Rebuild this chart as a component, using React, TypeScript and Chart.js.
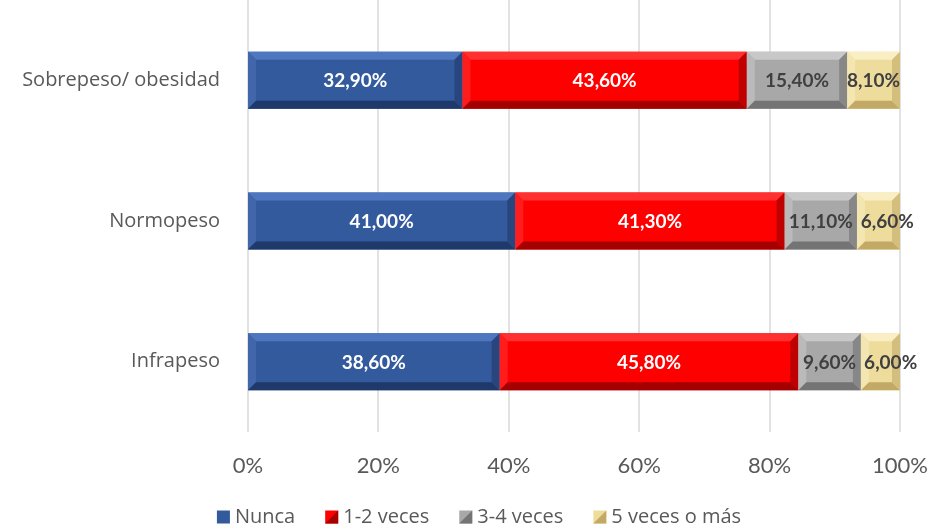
import React, { useEffect, useRef } from "react";
import { Chart, registerables } from "chart.js";

Chart.register(...registerables);

const categories = ["Sobrepeso/ obesidad", "Normopeso", "Infrapeso"];
const seriesLabels = ["Nunca", "1-2 veces", "3-4 veces", "5 veces o más"];
const nunca = [32.9, 41.0, 38.6];
const veces12 = [43.6, 41.3, 45.8];
const veces34 = [15.4, 11.1, 9.6];
const veces5 = [8.1, 6.6, 6.0];
const xTickValues = [0, 20, 40, 60, 80, 100];

const palettes = [
  { main: "#335A9D", top: "#4E77BF", left: "#4166AA", bottom: "#1E396A", right: "#28467D", label: "#FFFFFF" },
  { main: "#FF0000", top: "#FF3030", left: "#FF1C1C", bottom: "#A40000", right: "#BE0000", label: "#FFFFFF" },
  { main: "#A8A8A8", top: "#C8C8C8", left: "#BABABA", bottom: "#747474", right: "#878787", label: "#404040" },
  { main: "#EEDC9C", top: "#FAEFC4", left: "#F4E6B0", bottom: "#C2AA66", right: "#D4BE7E", label: "#404040" },
];

const FONT = "'Open Sans', Lato, sans-serif";
const LABEL_FONT = "Lato, 'Open Sans', sans-serif";

const fmt = (v: number) => v.toFixed(2).replace(".", ",") + "%";

const gridPlugin = {
  id: "extGrid",
  beforeDatasetsDraw(chart: any) {
    const ctx = chart.ctx;
    const xs = chart.scales.x;
    ctx.save();
    ctx.strokeStyle = "#D9D9D9";
    ctx.lineWidth = 1.5;
    xTickValues.forEach((v) => {
      const px = Math.round(xs.getPixelForValue(v));
      ctx.beginPath();
      ctx.moveTo(px, 0);
      ctx.lineTo(px, chart.chartArea.bottom);
      ctx.stroke();
    });
    ctx.restore();
  },
};

const bevelPlugin = {
  id: "bevel",
  afterDatasetsDraw(chart: any) {
    const ctx = chart.ctx;
    ctx.save();
    chart.data.datasets.forEach((ds: any, di: number) => {
      const meta = chart.getDatasetMeta(di);
      const p = palettes[di];
      meta.data.forEach((el: any) => {
        const { x, y, base, height } = el.getProps(["x", "y", "base", "height"], true);
        const l = Math.min(x, base);
        const r = Math.max(x, base);
        const t = y - height / 2;
        const b = y + height / 2;
        const bw = Math.min(8, (r - l) / 2);
        const poly = (pts: number[][], c: string) => {
          ctx.fillStyle = c;
          ctx.beginPath();
          ctx.moveTo(pts[0][0], pts[0][1]);
          for (let k = 1; k < pts.length; k++) ctx.lineTo(pts[k][0], pts[k][1]);
          ctx.closePath();
          ctx.fill();
        };
        poly([[l, t], [r, t], [r - bw, t + bw], [l + bw, t + bw]], p.top);
        poly([[l, t], [l + bw, t + bw], [l + bw, b - bw], [l, b]], p.left);
        poly([[l, b], [l + bw, b - bw], [r - bw, b - bw], [r, b]], p.bottom);
        poly([[r, t], [r, b], [r - bw, b - bw], [r - bw, t + bw]], p.right);
      });
    });
    ctx.font = `bold 19px ${LABEL_FONT}`;
    ctx.textAlign = "left";
    ctx.textBaseline = "middle";
    const prevRight: number[] = categories.map(() => -Infinity);
    chart.data.datasets.forEach((ds: any, di: number) => {
      const meta = chart.getDatasetMeta(di);
      meta.data.forEach((el: any, i: number) => {
        const { x, y, base } = el.getProps(["x", "y", "base"], true);
        const txt = fmt(ds.data[i]);
        const w = ctx.measureText(txt).width;
        let left = (x + base) / 2 - w / 2;
        if (left < prevRight[i] + 8) left = prevRight[i] + 8;
        prevRight[i] = left + w;
        ctx.fillStyle = palettes[di].label;
        ctx.fillText(txt, left, y + 1);
      });
    });
    ctx.restore();
  },
};

const legendPlugin = {
  id: "customLegend",
  afterDraw(chart: any) {
    const ctx = chart.ctx;
    ctx.save();
    ctx.font = `20px ${FONT}`;
    const box = 13;
    const gapText = 5;
    const gapItem = 30;
    const widths = seriesLabels.map((s) => box + gapText + ctx.measureText(s).width);
    const total = widths.reduce((a, b) => a + b, 0) + gapItem * (widths.length - 1);
    let x = 479 - total / 2;
    const cy = 517;
    seriesLabels.forEach((s, i) => {
      const p = palettes[i];
      ctx.fillStyle = p.main;
      ctx.fillRect(x, cy - box / 2, box, box);
      if (i > 0) {
        ctx.fillStyle = p.bottom;
        ctx.beginPath();
        ctx.moveTo(x + box, cy - box / 2);
        ctx.lineTo(x + box, cy + box / 2);
        ctx.lineTo(x, cy + box / 2);
        ctx.closePath();
        ctx.fill();
      }
      ctx.fillStyle = "#595959";
      ctx.textAlign = "left";
      ctx.textBaseline = "middle";
      ctx.fillText(s, x + box + gapText, cy);
      x += widths[i] + gapItem;
    });
    ctx.restore();
  },
};

export default function App() {
  const ref = useRef<HTMLCanvasElement | null>(null);
  useEffect(() => {
    if (!ref.current) return;
    const seriesData = [nunca, veces12, veces34, veces5];
    const chart = new Chart(ref.current, {
      type: "bar",
      data: {
        labels: categories,
        datasets: seriesLabels.map((lab, i) => ({
          label: lab,
          data: seriesData[i],
          backgroundColor: palettes[i].main,
          borderWidth: 0,
          barPercentage: 0.405,
          categoryPercentage: 1,
        })),
      },
      options: {
        indexAxis: "y",
        responsive: false,
        animation: false,
        layout: { padding: { left: 0, right: 31, top: 10, bottom: 47 } },
        plugins: {
          legend: { display: false },
          tooltip: { enabled: false },
        },
        scales: {
          x: {
            stacked: true,
            min: 0,
            max: 100,
            border: { display: false },
            grid: { display: false, drawTicks: false },
            ticks: {
              stepSize: 20,
              padding: 21,
              color: "#595959",
              font: { family: LABEL_FONT, size: 22 },
              callback: (v: any) => v + "%",
            },
            afterFit: (s: any) => {
              s.height = 50;
              s.paddingLeft = 0;
              s.paddingRight = 0;
            },
          },
          y: {
            stacked: true,
            border: { display: false },
            grid: { display: false, drawTicks: false },
            ticks: {
              padding: 28,
              color: "#595959",
              font: { family: FONT, size: 20 },
            },
            afterFit: (s: any) => {
              s.width = 248;
              s.paddingTop = 0;
              s.paddingBottom = 0;
            },
          },
        },
      },
      plugins: [gridPlugin, bevelPlugin, legendPlugin],
    } as any);
    return () => chart.destroy();
  }, []);
  return (
    <div style={{ position: "fixed", left: 0, top: 0, width: 931, height: 529, background: "#fff" }}>
      <canvas ref={ref} width={931} height={529} />
    </div>
  );
}
